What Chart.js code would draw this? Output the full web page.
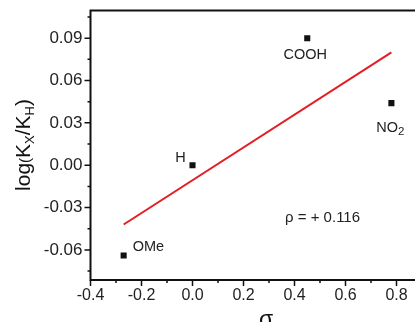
<!DOCTYPE html>
<html>
<head>
<meta charset="utf-8">
<script src="https://cdn.jsdelivr.net/npm/chart.js@4/dist/chart.umd.min.js"></script>
<style>
  html, body { margin: 0; padding: 0; background: #fff; overflow: hidden; }
  #wrap { width: 430px; height: 322px; }
</style>
</head>
<body>
<div id="wrap"><canvas id="hammett" width="430" height="322"></canvas></div>
<script>
// substituent data (sigma vs log(Kx/KH))
const substituents = ["OMe", "H", "COOH", "NO2"];
const sigmaValues = [-0.27, 0.00, 0.45, 0.78];
const logKValues = [-0.064, 0.000, 0.090, 0.044];

// linear fit line, rho = +0.116
const fitX = [-0.27, 0.78];
const fitY = [-0.042, 0.080];
const rhoText = "\u03C1 = + 0.116";

const FONT = "'Liberation Sans', Arial, sans-serif";

function drawParts(ctx, parts, x, y, align) {
    // parts: [{t, size, dy}] drawn on one baseline
    let total = 0;
    parts.forEach(p => {
        ctx.font = p.size + "px " + FONT;
        p.w = ctx.measureText(p.t).width;
        total += p.w;
    });
    let cx = align === "center" ? x - total / 2 : x;
    ctx.textAlign = "left";
    ctx.textBaseline = "alphabetic";
    parts.forEach(p => {
        ctx.font = p.size + "px " + FONT;
        ctx.fillText(p.t, cx, y + (p.dy || 0));
        cx += p.w;
    });
}

const decorations = {
    id: "decorations",
    afterDraw(chart) {
        const ctx = chart.ctx;
        const area = chart.chartArea;
        const xs = chart.scales.x;
        const ys = chart.scales.y;
        ctx.save();

        // frame
        ctx.strokeStyle = "#111";
        ctx.lineWidth = 2;
        ctx.strokeRect(area.left, area.top, area.right - area.left, area.bottom - area.top);

        // tick marks (major / minor)
        ctx.lineWidth = 1.5;
        ctx.beginPath();
        ys.ticks.forEach(t => {
            const py = ys.getPixelForValue(t.value);
            const major = Math.round(t.value / 0.015) % 2 === 0;
            ctx.moveTo(area.left, py);
            ctx.lineTo(area.left - (major ? 6 : 3), py);
        });
        xs.ticks.forEach(t => {
            const px = xs.getPixelForValue(t.value);
            const major = Math.round(t.value / 0.1) % 2 === 0;
            ctx.moveTo(px, area.bottom);
            ctx.lineTo(px, area.bottom + (major ? 6 : 3));
        });
        ctx.stroke();

        // point labels
        ctx.fillStyle = "#222";
        const pts = chart.getDatasetMeta(1).data;
        const lbl = 14.5;
        const pos = [
            { dx: 9, dy: -5, align: "left" },     // OMe
            { dx: -12, dy: -3, align: "center" }, // H
            { dx: -2, dy: 21, align: "center" },  // COOH
            { dx: -1, dy: 29, align: "center" }   // NO2
        ];
        substituents.forEach((name, i) => {
            const p = pts[i];
            const o = pos[i];
            let parts;
            if (name === "NO2") {
                parts = [{ t: "NO", size: lbl }, { t: "2", size: 11.5, dy: 3 }];
            } else {
                parts = [{ t: name, size: lbl }];
            }
            drawParts(ctx, parts, p.x + o.dx, p.y + o.dy, o.align);
        });

        // rho annotation
        drawParts(ctx, [{ t: rhoText, size: 15 }],
            xs.getPixelForValue(0.51), ys.getPixelForValue(-0.0365) + 5, "center");

        // x title
        ctx.fillStyle = "#111";
        drawParts(ctx, [{ t: "\u03C3", size: 23 }], 266, 327, "center");

        // y title (rotated, with subscripts)
        ctx.translate(30, 145);
        ctx.rotate(-Math.PI / 2);
        drawParts(ctx, [
            { t: "log", size: 21 },
            { t: "(", size: 15 },
            { t: "K", size: 21 },
            { t: "X", size: 13, dy: 4 },
            { t: "/K", size: 21 },
            { t: "H", size: 13, dy: 4 },
            { t: ")", size: 21 }
        ], 0, 0, "center");

        ctx.restore();
    }
};

const ctx = document.getElementById("hammett").getContext("2d");
new Chart(ctx, {
    type: "scatter",
    data: {
        datasets: [
            {
                type: "line",
                label: "fit",
                data: fitX.map((x, i) => ({ x: x, y: fitY[i] })),
                borderColor: "#e21d24",
                borderWidth: 2,
                pointRadius: 0,
                fill: false
            },
            {
                label: "substituents",
                data: sigmaValues.map((x, i) => ({ x: x, y: logKValues[i] })),
                pointStyle: "rect",
                pointRadius: 4.3,
                backgroundColor: "#111",
                borderColor: "#111",
                borderWidth: 0
            }
        ]
    },
    options: {
        responsive: false,
        animation: false,
        devicePixelRatio: 1,
        layout: { padding: { left: 0, right: 8, top: 10.5, bottom: 0 } },
        plugins: {
            legend: { display: false },
            tooltip: { enabled: false }
        },
        scales: {
            x: {
                type: "linear",
                min: -0.4,
                max: 0.9,
                grid: { display: false, drawTicks: false },
                border: { display: false },
                ticks: {
                    stepSize: 0.1,
                    includeBounds: false,
                    autoSkip: false,
                    maxRotation: 0,
                    padding: 6,
                    color: "#222",
                    font: { family: FONT, size: 16 },
                    callback: v => Math.round(v / 0.1) % 2 === 0 ? v.toFixed(1) : ""
                },
                afterFit: s => { s.height = 42; s.paddingLeft = 0; s.paddingRight = 0; }
            },
            y: {
                type: "linear",
                min: -0.0813,
                max: 0.1096,
                grid: { display: false, drawTicks: false },
                border: { display: false },
                ticks: {
                    stepSize: 0.015,
                    includeBounds: false,
                    autoSkip: false,
                    padding: 8,
                    color: "#222",
                    font: { family: FONT, size: 17 },
                    callback: v => Math.round(v / 0.015) % 2 === 0 ? v.toFixed(2) : ""
                },
                afterFit: s => { s.width = 90.5; s.paddingTop = 0; s.paddingBottom = 0; }
            }
        }
    },
    plugins: [decorations]
});
</script>
</body>
</html>
